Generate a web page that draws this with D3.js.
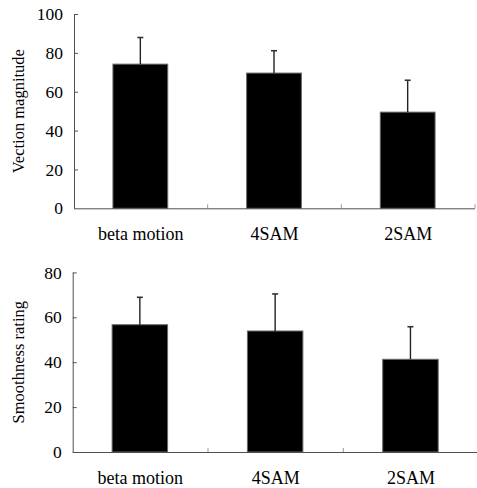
<!DOCTYPE html>
<html>
<head>
<meta charset="utf-8">
<script src="https://cdn.jsdelivr.net/npm/d3@7"></script>
<style>
  html, body { margin: 0; padding: 0; background: #fff; }
  svg { display: block; }
</style>
</head>
<body>
<div id="chart"></div>
<script>
// ── Data ──────────────────────────────────────────────────────────────────
const conditions = ['beta motion', '4SAM', '2SAM'];

const vectionMean = [74.2, 69.6, 49.5];
const vectionErr  = [13.7, 11.5, 16.4];
const vectionTicks = [0, 20, 40, 60, 80, 100];

const smoothMean = [56.7, 53.9, 41.3];
const smoothErr  = [12.2, 16.5, 14.5];
const smoothTicks = [0, 20, 40, 60, 80];

// ── Layout ────────────────────────────────────────────────────────────────
const W = 477, H = 488;
const AXIS = '#505050';
const SERIF = "'Liberation Serif', 'Times New Roman', Times, 'DejaVu Serif', serif";

const svg = d3.select('#chart').append('svg')
  .attr('width', W).attr('height', H)
  .style('font-family', SERIF);

// one panel: left/right = x range, top/bottom = y range
function panel(opt) {
  const g = svg.append('g');

  const x = d3.scaleBand()
    .domain(conditions)
    .range([opt.left, opt.right])
    .paddingInner(0.59)
    .paddingOuter(0.295);
  const step = x.step();

  const y = d3.scaleLinear().domain([0, opt.max]).range([opt.bottom, opt.top]);

  // bars
  g.selectAll('rect.bar')
    .data(opt.mean)
    .join('rect')
    .attr('class', 'bar')
    .attr('x', (d, i) => x(conditions[i]) - 0.5)
    .attr('y', d => y(d))
    .attr('width', x.bandwidth())
    .attr('height', d => y(0) - y(d))
    .attr('fill', '#000')
    .attr('stroke', '#6a6a6a')
    .attr('stroke-width', 1);

  // error bars (upper only)
  const eb = g.selectAll('g.err')
    .data(opt.mean.map((m, i) => ({ m, e: opt.err[i], c: conditions[i] })))
    .join('g').attr('class', 'err');
  eb.append('line')
    .attr('x1', d => x(d.c) + x.bandwidth() / 2 - 0.5)
    .attr('x2', d => x(d.c) + x.bandwidth() / 2 - 0.5)
    .attr('y1', d => y(d.m))
    .attr('y2', d => y(d.m + d.e))
    .attr('stroke', '#222').attr('stroke-width', 1.4);
  eb.append('line')
    .attr('x1', d => x(d.c) + x.bandwidth() / 2 - 3.5)
    .attr('x2', d => x(d.c) + x.bandwidth() / 2 + 2.5)
    .attr('y1', d => y(d.m + d.e))
    .attr('y2', d => y(d.m + d.e))
    .attr('stroke', '#333').attr('stroke-width', 1.6);

  // y axis (ticks point inward)
  g.append('g')
    .attr('transform', `translate(${opt.left},0)`)
    .call(d3.axisLeft(y).tickValues(opt.ticks).tickSize(-4).tickSizeOuter(0).tickPadding(11))
    .attr('font-family', null)
    .attr('font-size', null)
    .call(a => a.select('.domain').attr('stroke', AXIS))
    .call(a => a.selectAll('.tick line').attr('stroke', AXIS))
    .call(a => a.selectAll('.tick').filter(d => d === 0).select('line').remove())
    .call(a => a.selectAll('text')
      .style('font-family', SERIF)
      .attr('font-size', 17.5).attr('fill', '#000'));

  // x axis line
  g.append('line')
    .attr('x1', opt.left).attr('x2', opt.left + step * conditions.length)
    .attr('y1', y(0) + 0.5).attr('y2', y(0) + 0.5)
    .attr('stroke', AXIS).attr('stroke-width', 1);

  // category separators (short ticks pointing up)
  g.selectAll('line.sep')
    .data(conditions)
    .join('line')
    .attr('class', 'sep')
    .attr('x1', (c, i) => opt.left + step * (i + 1))
    .attr('x2', (c, i) => opt.left + step * (i + 1))
    .attr('y1', y(0)).attr('y2', y(0) - 4)
    .attr('stroke', '#999').attr('stroke-width', 1);

  // category labels
  g.selectAll('text.cat')
    .data(conditions)
    .join('text')
    .attr('class', 'cat')
    .attr('x', c => x(c) + x.bandwidth() / 2)
    .attr('y', y(0) + 31.5)
    .attr('text-anchor', 'middle')
    .style('font-family', SERIF)
    .attr('font-size', 18)
    .text(c => c);

  // y title
  g.append('text')
    .attr('transform', `translate(24,${(opt.top + opt.bottom) / 2}) rotate(-90)`)
    .attr('text-anchor', 'middle')
    .style('font-family', SERIF)
    .attr('font-size', 16.5)
    .text(opt.title);
}

panel({
  left: 74, right: 475, top: 14, bottom: 208.3, max: 100,
  mean: vectionMean, err: vectionErr, ticks: vectionTicks, title: 'Vection magnitude'
});

panel({
  left: 72.7, right: 478.6, top: 272.4, bottom: 452, max: 80,
  mean: smoothMean, err: smoothErr, ticks: smoothTicks, title: 'Smoothness rating'
});
</script>
</body>
</html>
